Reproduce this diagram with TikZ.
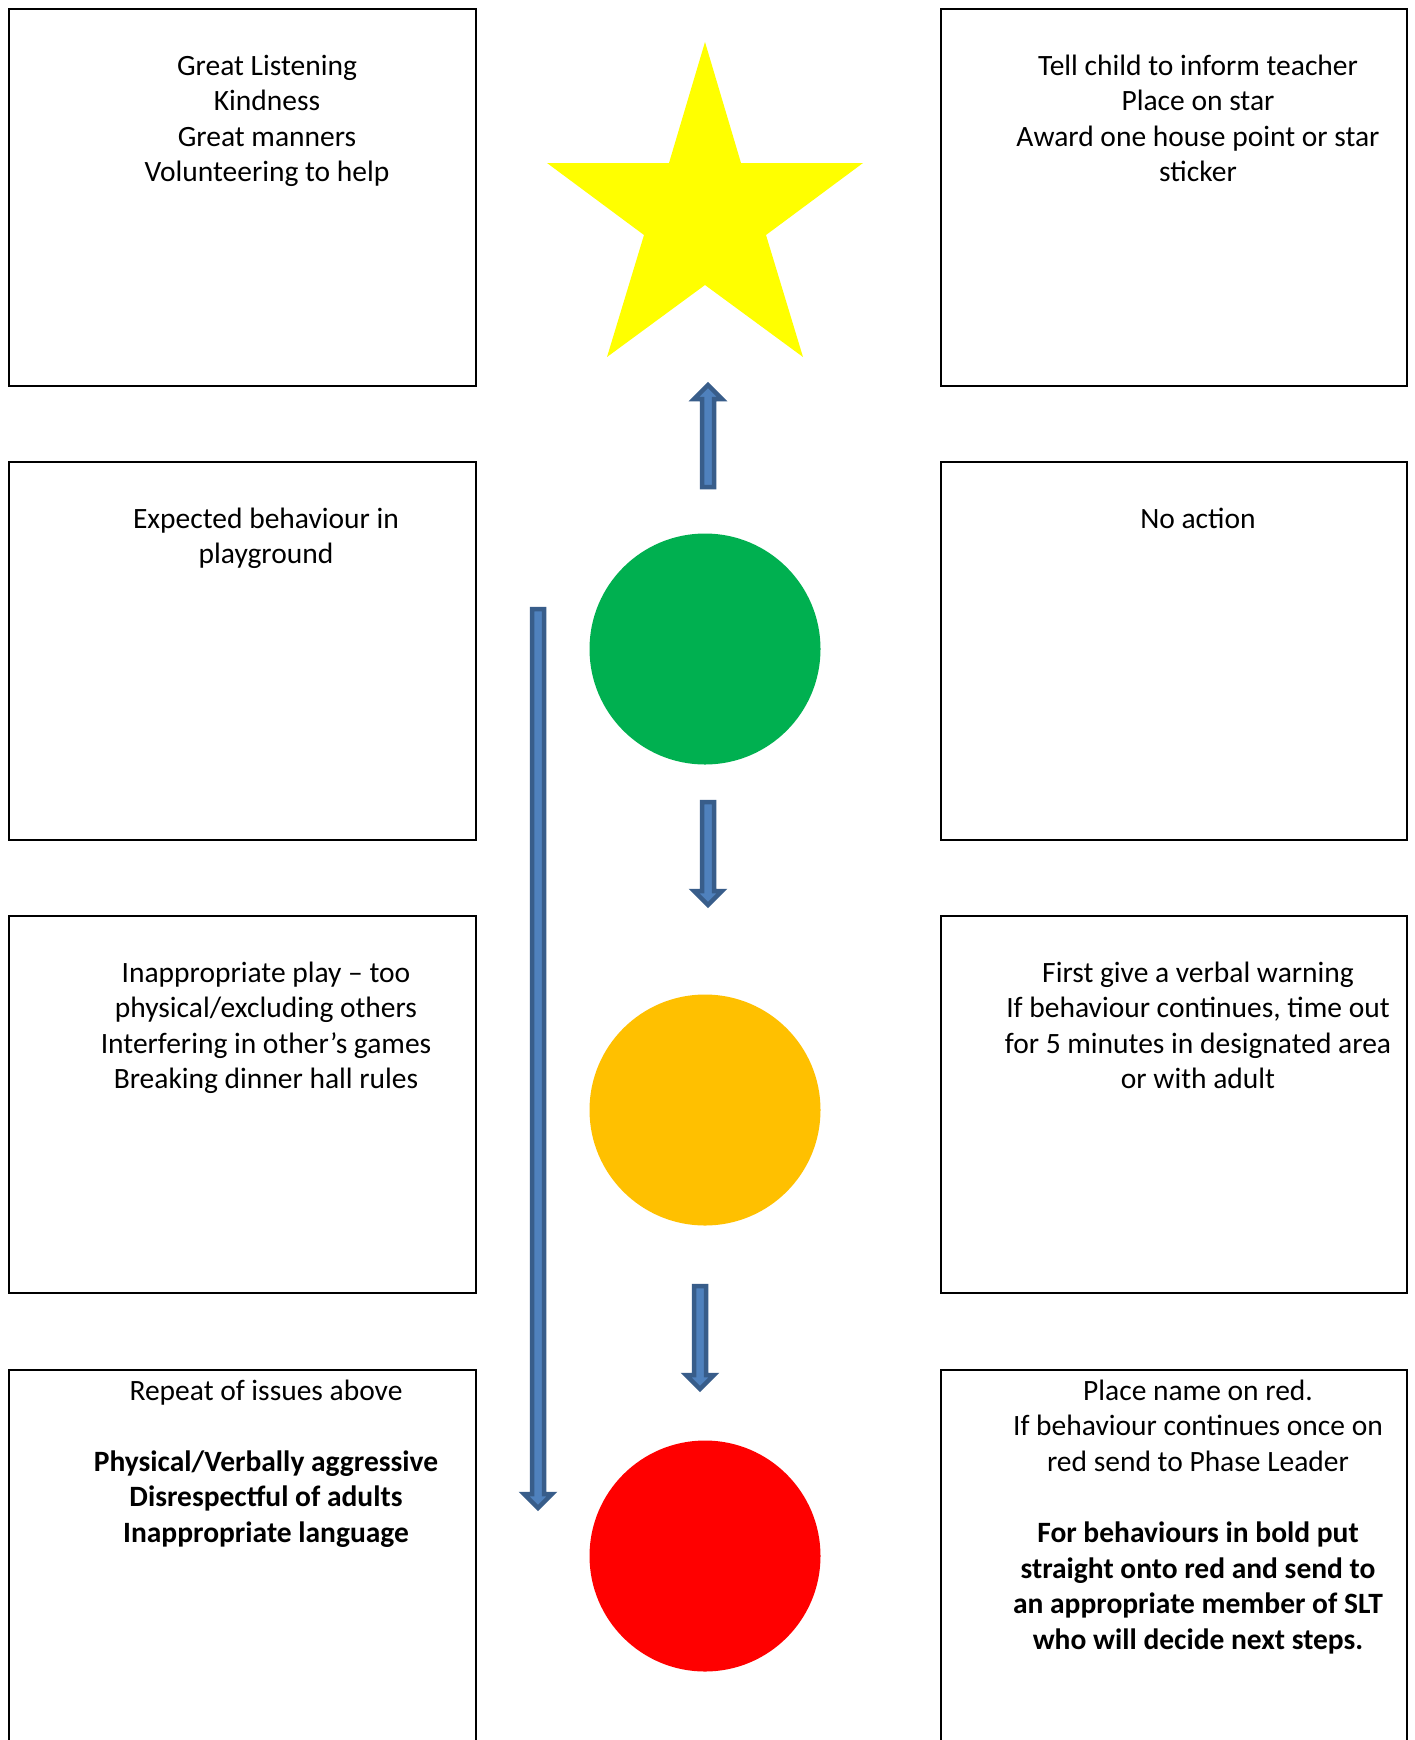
\documentclass[tikz,border=0pt]{standalone}
\usepackage{fontspec}
\setmainfont{Carlito}
\definecolor{arrowfill}{HTML}{4F81BD}
\definecolor{arrowline}{HTML}{385D8A}
\definecolor{tlgreen}{HTML}{00B050}
\definecolor{tlamber}{HTML}{FFC000}
\definecolor{tlred}{HTML}{FF0000}
\definecolor{staryellow}{HTML}{FFFF00}
\begin{document}
\begin{tikzpicture}[x=1pt,y=-1pt,
  box/.style={draw=black, line width=2pt},
  txt/.style={align=center, anchor=base, inner sep=0pt, font=\fontsize{29.5}{35.6}\selectfont},
  blockarrow/.style={fill=arrowfill, draw=arrowline, line width=4.5pt, line join=miter},
  light/.style={circle, minimum size=231pt, inner sep=0pt}]
\clip (0,0) rectangle (1414,1740);
\fill[white] (0,0) rectangle (1414,1740);

% boxes
\draw[box] (9,9) rectangle (476,386);
\draw[box] (941,9) rectangle (1407,386);
\draw[box] (9,462) rectangle (476,840);
\draw[box] (941,462) rectangle (1407,840);
\draw[box] (9,916) rectangle (476,1293);
\draw[box] (941,916) rectangle (1407,1293);
\draw[box] (9,1370) rectangle (476,1780);
\draw[box] (941,1370) rectangle (1407,1780);

% texts (anchor = baseline of last line)
\node[txt] (t1l) at (267,181.8) {Great Listening\\Kindness\\Great manners\\Volunteering to help};
\node[txt] (t1r) at (1198,181.8) {Tell child to inform teacher\\Place on star\\Award one house point or star\\sticker};
\node[txt] (t2l) at (266,563.6) {Expected behaviour in\\playground};
\node[txt] (t2r) at (1198,528) {No action};
\node[txt] (t3l) at (266,1088.8) {Inappropriate play – too\\physical/excluding others\\Interfering in other’s games\\Breaking dinner hall rules};
\node[txt] (t3r) at (1198,1088.8) {First give a verbal warning\\If behaviour continues, time out\\for 5 minutes in designated area\\or with adult};
\node[txt] (t4l) at (266,1542.4) {Repeat of issues above\\[35.6pt]\textbf{Physical/Verbally aggressive}\\\textbf{Disrespectful of adults}\\\textbf{Inappropriate language}};
\node[txt] (t4r) at (1198,1649.2) {Place name on red.\\If behaviour continues once on\\red send to Phase Leader\\[35.6pt]\textbf{For behaviours in bold put}\\\textbf{straight onto red and send to}\\\textbf{an appropriate member of SLT}\\\textbf{who will decide next steps.}};

% star
\fill[staryellow] (705,42) -- (741,163) -- (863,163) -- (766,235) -- (803,357) -- (705,285)
  -- (607,357) -- (644,235) -- (547,163) -- (669,163) -- cycle;

% traffic lights
\node[light, fill=tlgreen] (green) at (705,649) {};
\node[light, fill=tlamber] (amber) at (705,1110) {};
\node[light, fill=tlred] (red) at (705,1556) {};

% block arrows
\draw[blockarrow] (702,487) -- (702,399) -- (694,399) -- (708,385) -- (722,399) -- (714,399) -- (714,487) -- cycle;
\draw[blockarrow] (702,802) -- (714,802) -- (714,891) -- (722,891) -- (708,905) -- (694,891) -- (702,891) -- cycle;
\draw[blockarrow] (694,1286) -- (706,1286) -- (706,1375) -- (714,1375) -- (700,1389) -- (686,1375) -- (694,1375) -- cycle;
\draw[blockarrow] (532,609) -- (544,609) -- (544,1494) -- (552,1494) -- (538,1508) -- (524,1494) -- (532,1494) -- cycle;
\end{tikzpicture}
\end{document}
